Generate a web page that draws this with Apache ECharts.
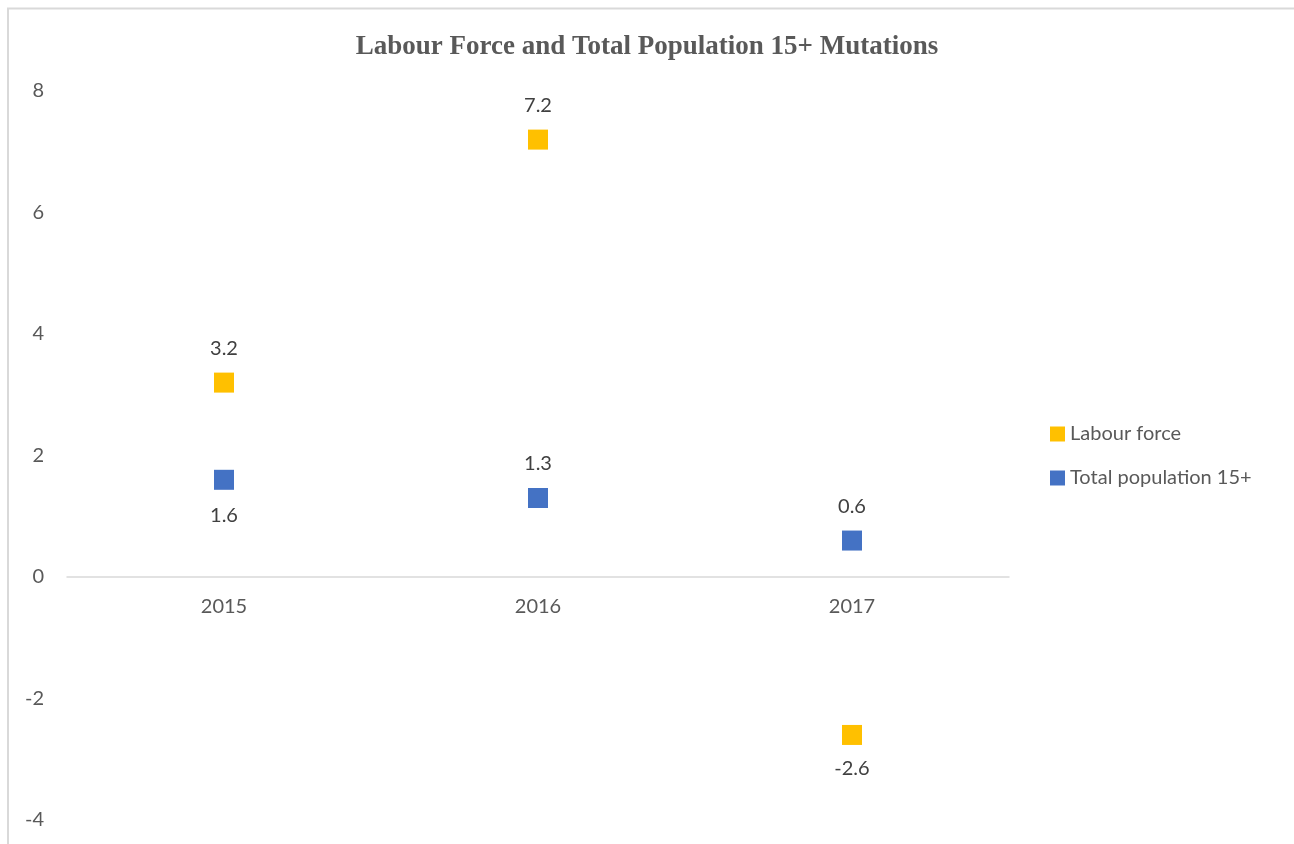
<!DOCTYPE html>
<html>
<head>
<meta charset="utf-8">
<script src="https://cdn.jsdelivr.net/npm/echarts@6/dist/echarts.min.js"></script>
<style>
html,body{margin:0;padding:0;background:#fff;}
#chart{width:1294px;height:844px;}
</style>
</head>
<body>
<div id="chart"></div>
<script>
const categories = ['2015', '2016', '2017'];
const labourForce = [3.2, 7.2, -2.6];
const totalPopulation = [1.6, 1.3, 0.6];
const seriesNames = ['Labour force', 'Total population 15+'];
const titleText = 'Labour Force and Total Population 15+ Mutations';

const chart = echarts.init(document.getElementById('chart'));
const font = 'Lato, "Open Sans", sans-serif';
chart.setOption({
  animation: false,
  backgroundColor: '#fff',
  graphic: [{
    type: 'rect',
    shape: {x: 8, y: 8.5, width: 1400, height: 900},
    style: {fill: 'none', stroke: '#D9D9D9', lineWidth: 2}
  }],
  title: {
    text: titleText, left: 'center', top: 29, padding: [5, 0, 5, 10],
    textStyle: {fontFamily: '"Liberation Serif", "Times New Roman", serif', fontWeight: 'bold', fontSize: 27, color: '#595959'}
  },
  legend: {
    orient: 'vertical', left: 1045, top: 419,
    itemWidth: 15, itemHeight: 15, itemGap: 24,
    icon: 'rect',
    textStyle: {fontFamily: font, fontSize: 20, color: '#595959'},
    data: seriesNames
  },
  grid: {left: 67, right: 285, top: 91, bottom: 24},
  xAxis: {
    type: 'category', data: categories,
    axisLine: {onZero: true, lineStyle: {color: '#D9D9D9', width: 1.5}},
    axisTick: {show: false},
    axisLabel: {fontFamily: font, fontSize: 20, color: '#595959', margin: -223}
  },
  yAxis: {
    type: 'value', min: -4, max: 8, interval: 2,
    axisLine: {show: false}, axisTick: {show: false},
    splitLine: {show: false},
    axisLabel: {fontFamily: font, fontSize: 20, color: '#595959', margin: 23}
  },
  series: [{
    name: seriesNames[0], type: 'scatter', symbol: 'rect', symbolSize: 20,
    itemStyle: {color: '#FFC000', opacity: 1},
    data: labourForce.map((v) => ({value: v, label: {position: v < 0 ? 'bottom' : 'top'}})),
    label: {show: true, distance: 14, fontFamily: font, fontSize: 20, color: '#404040'}
  }, {
    name: seriesNames[1], type: 'scatter', symbol: 'rect', symbolSize: 20,
    itemStyle: {color: '#4472C4', opacity: 1},
    data: totalPopulation.map((v, i) => ({value: v, label: {position: i === 0 ? 'bottom' : 'top', distance: i === 0 ? 16 : 14}})),
    label: {show: true, distance: 14, fontFamily: font, fontSize: 20, color: '#404040'}
  }]
});
</script>
</body>
</html>
